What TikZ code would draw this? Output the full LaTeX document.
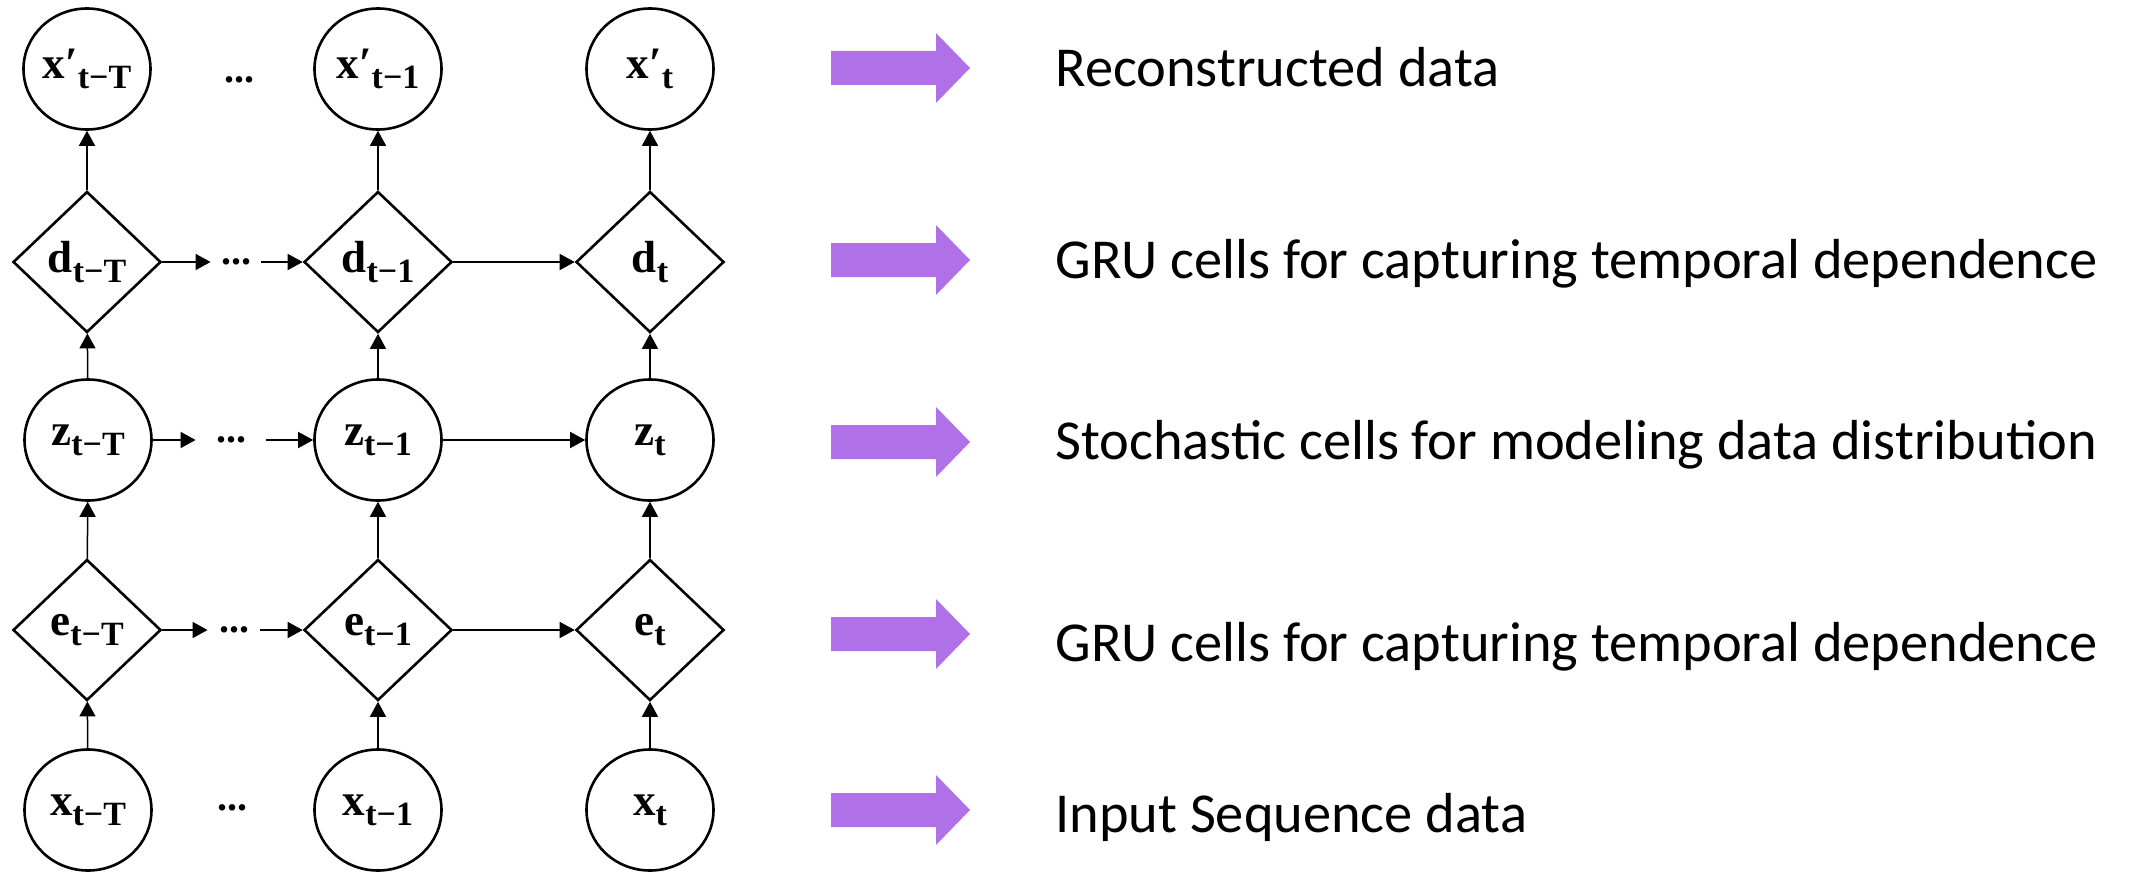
\documentclass[tikz,border=0pt]{standalone}
\usepackage{fontspec}
\setsansfont{Carlito}
\newfontfamily\lblfont{Liberation Serif}
\usetikzlibrary{shapes.geometric,arrows.meta}
\definecolor{purp}{HTML}{B071E8}
\newcommand\lbl[2]{{\fontsize{22.5}{22.5}\selectfont #1}\raisebox{-5pt}{\fontsize{17}{17}\selectfont #2}}
\begin{document}
\begin{tikzpicture}[x=0.5pt,y=-0.5pt,
  cell/.style={draw,line width=1.3pt,inner sep=0pt,font=\lblfont\bfseries},
  obs/.style={cell,ellipse,minimum width=63.5pt,minimum height=60.5pt},
  gru/.style={cell,diamond,minimum width=74pt,minimum height=70.5pt},
  dotsn/.style={inner sep=0pt,minimum height=6pt,font=\lblfont\bfseries\fontsize{20}{20}\selectfont},
  con/.style={line width=0.75pt,-{Triangle[length=7.5pt,width=8pt]}},
  desc/.style={anchor=base west,inner sep=0pt,font=\sffamily\fontsize{28.2}{28.2}\selectfont},
  bigarrow/.style={fill=purp}
]
\useasboundingbox (0,0) rectangle (2131,872);
% columns 87, 378, 650
\node[obs] (xp1) at (87,69)  {\lbl{x′}{t−T}};
\node[obs] (xp2) at (378,69) {\lbl{x′}{t−1}};
\node[obs] (xp3) at (650,69) {\lbl{x′}{t}};
\node[dotsn] (dxp) at (239,80) {...};

\node[gru] (d1) at (87,262)  {\lbl{d}{t−T}};
\node[gru] (d2) at (378,262) {\lbl{d}{t−1}};
\node[gru] (d3) at (650,262) {\lbl{d}{t}};
\node[dotsn,minimum width=25pt] (dd) at (236,262) {...};

\node[obs] (z1) at (88,440)  {\lbl{z}{t−T}};
\node[obs] (z2) at (378,440) {\lbl{z}{t−1}};
\node[obs] (z3) at (650,440) {\lbl{z}{t}};
\node[dotsn,minimum width=35pt] (dz) at (231,440) {...};

\node[gru] (e1) at (87,630)  {\lbl{e}{t−T}};
\node[gru] (e2) at (378,630) {\lbl{e}{t−1}};
\node[gru] (e3) at (650,630) {\lbl{e}{t}};
\node[dotsn,minimum width=26pt] (de) at (234,630) {...};

\node[obs] (x1) at (88,810)  {\lbl{x}{t−T}};
\node[obs] (x2) at (378,810) {\lbl{x}{t−1}};
\node[obs] (x3) at (650,810) {\lbl{x}{t}};
\node[dotsn] (dx) at (232,808) {...};

% vertical connectors
\foreach \c in {1,2,3}{
  \draw[con] (x\c) -- (e\c);
  \draw[con] (e\c) -- (z\c);
  \draw[con] (z\c) -- (d\c);
  \draw[con] (d\c) -- (xp\c);
}
% horizontal connectors
\foreach \r in {d,z,e}{
  \draw[con] (\r1) -- (d\r);
  \draw[con] (d\r) -- (\r2);
  \draw[con] (\r2) -- (\r3);
}

% purple arrows
\foreach \y in {68,260,442,634,810}{
  \fill[bigarrow] (831,{\y-17}) -- (936,{\y-17}) -- (936,{\y-35}) -- (970,\y)
     -- (936,{\y+35}) -- (936,{\y+17}) -- (831,{\y+17}) -- cycle;
}

% descriptions
\node[desc] (t1) at (1055,87)  {Reconstructed data};
\node[desc] (t2) at (1055,278) {GRU cells for capturing temporal dependence};
\node[desc] (t3) at (1055,459) {Stochastic cells for modeling data distribution};
\node[desc] (t4) at (1055,661) {GRU cells for capturing temporal dependence};
\node[desc] (t5) at (1055,832) {Input Sequence data};
\end{tikzpicture}
\end{document}
